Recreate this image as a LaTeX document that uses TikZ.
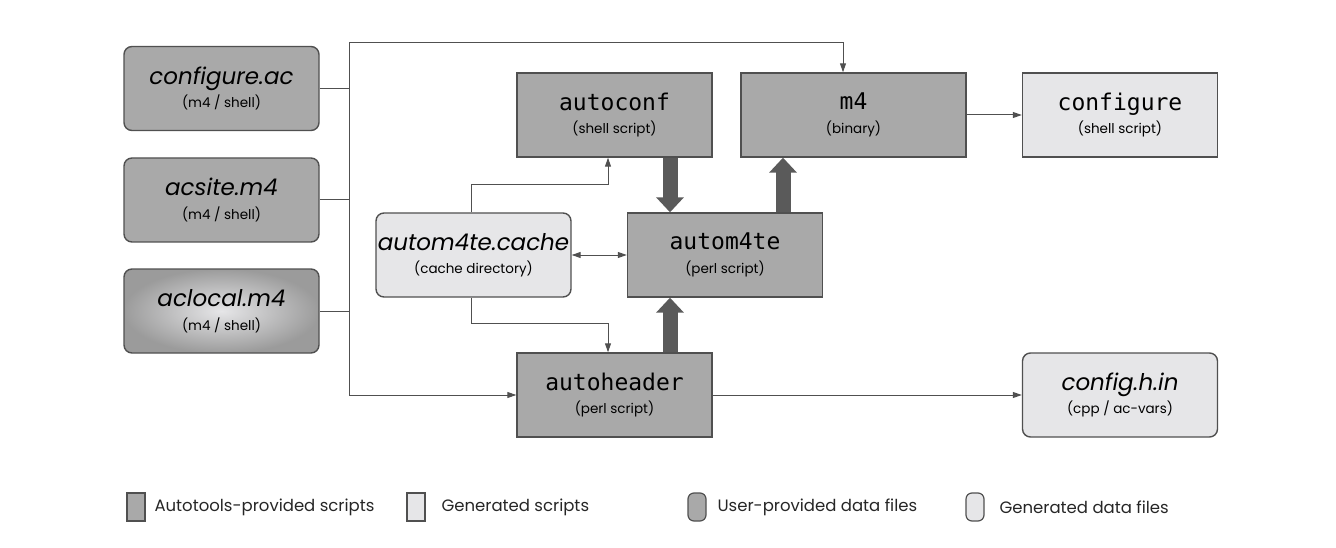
\documentclass[tikz,border=0pt]{standalone}
\usepackage{fontspec}
\setmainfont{Poppins}
\newfontfamily\codefont{DejaVu Sans Mono}
\usetikzlibrary{arrows.meta,calc}
\definecolor{dk}{HTML}{A9A9A9}
\definecolor{lt}{HTML}{E6E6E8}
\definecolor{ln}{HTML}{505050}
\definecolor{thick}{HTML}{5A5A5A}
\tikzset{
  x=1pt,y=-1pt,
  box/.style={draw=ln,line width=1.4pt,minimum width=195pt,minimum height=84pt,align=center,inner sep=0pt,font=\fontsize{13.5}{23.5}\selectfont},
  autobox/.style={box,fill=dk},
  genbox/.style={box,fill=lt},
  userbox/.style={box,fill=dk,rounded corners=8pt},
  gdata/.style={box,fill=lt,rounded corners=8pt},
  conn/.style={draw=ln,line width=1pt},
  arr/.style={conn,-{Triangle[length=9pt,width=6pt]}},
  darr/.style={conn,{Triangle[length=9pt,width=6pt]}-{Triangle[length=9pt,width=6pt]}},
  fat/.style={draw=thick,line width=15pt,-{Triangle[length=15pt,width=27pt]}},
  leg/.style={draw=ln,line width=1.2pt,minimum width=18pt,minimum height=28pt,inner sep=0pt},
  legt/.style={anchor=west,font=\fontsize{16.5}{18}\selectfont,text=black!85},
}
\newcommand{\fname}[1]{{\fontsize{23}{26}\selectfont\itshape #1}}
\newcommand{\pname}[1]{{\fontsize{23}{26}\selectfont\codefont #1}}
\begin{document}
\begin{tikzpicture}
\useasboundingbox (0,0) rectangle (1336,548);
% left user files
\node[userbox] (cac) at (221.5,88.5) {\fname{configure.ac}\\(m4 / shell)};
\node[userbox] (acs) at (221.5,200) {\fname{acsite.m4}\\(m4 / shell)};
\node[box,rounded corners=8pt,inner color=lt,outer color=dk!92!black] (acl) at (221.5,311) {\fname{aclocal.m4}\\(m4 / shell)};
% scripts
\node[autobox] (ac) at (614.5,115) {\pname{autoconf}\\(shell script)};
\node[autobox,minimum width=225pt] (m4) at (853.5,115) {\pname{m4}\\(binary)};
\node[genbox] (cfg) at (1120,115) {\pname{configure}\\(shell script)};
\node[autobox] (a4) at (725,255) {\pname{autom4te}\\(perl script)};
\node[gdata] (cache) at (473.5,255) {\fname{autom4te.cache}\\(cache directory)};
\node[autobox] (ah) at (614.5,395) {\pname{autoheader}\\(perl script)};
\node[gdata] (chin) at (1120,395) {\fname{config.h.in}\\(cpp / ac-vars)};
% bus
\coordinate (b1) at (349,43);
\coordinate (b2) at (349,395);
\draw[conn] (cac.east) -- (cac.east -| b1);
\draw[conn] (acs.east) -- (acs.east -| b1);
\draw[conn] (acl.east) -- (acl.east -| b1);
\draw[arr] (b2) -- (b1) -- (b1 -| 843,0) -- (843,0 |- m4.north);
\draw[arr] (b2) -- (ah.west);
% cache links
\draw[arr] (cache.north -| 471,0) -- (471,185) -- (608,185) -- (608,0 |- ac.south);
\draw[arr] (cache.south -| 471,0) -- (471,323) -- (608,323) -- (608,0 |- ah.north);
\draw[darr] (cache.east) -- (a4.west);
% outputs
\draw[arr] (m4.east) -- (cfg.west);
\draw[arr] (ah.east) -- (chin.west);
% fat arrows
\draw[fat] (ac.south -| 670,0) -- (a4.north -| 670,0);
\draw[fat] (a4.north -| 783,0) -- (m4.south -| 783,0);
\draw[fat] (ah.north -| 670,0) -- (a4.south -| 670,0);
% legend
\node[leg,fill=dk] (l1) at (136,507) {};
\node[legt] (t1) at (151,507) {Autotools-provided scripts};
\node[leg,fill=lt] (l2) at (416,507) {};
\node[legt] (t2) at (438,507) {Generated scripts};
\node[leg,fill=dk,rounded corners=6pt] (l3) at (697,507) {};
\node[legt] (t3) at (714,507) {User-provided data files};
\node[leg,fill=lt,rounded corners=6pt] (l4) at (975,507) {};
\node[legt] (t4) at (996,507) {Generated data files};
\end{tikzpicture}
\end{document}
